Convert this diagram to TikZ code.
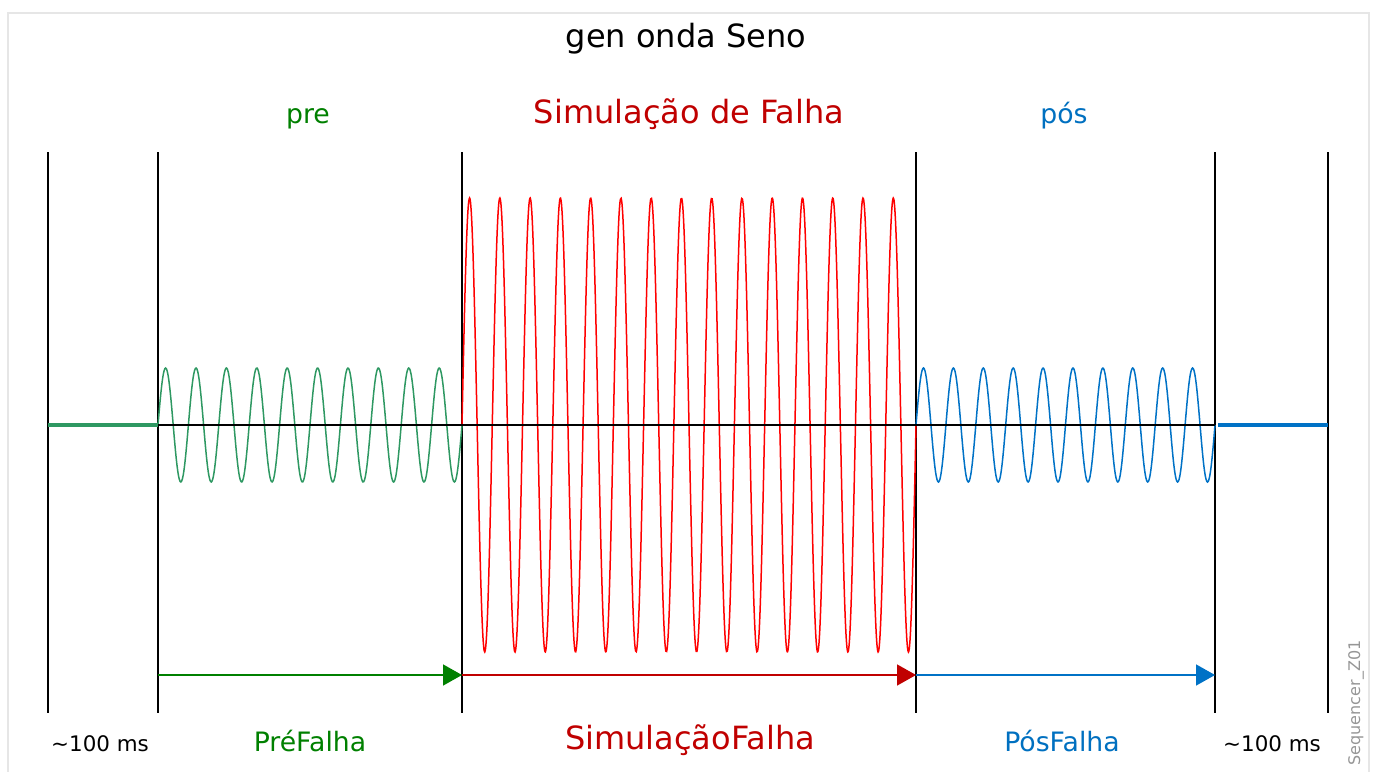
\documentclass[tikz,border=0pt]{standalone}
\usepackage{fontspec}
\setmainfont{DejaVu Sans}
\usetikzlibrary{
  positioning,
  arrows.meta
}
\definecolor{precolor}{RGB}{46,152,98}
\definecolor{faultcolor}{RGB}{255,0,0}
\definecolor{postcolor}{RGB}{0,114,198}
\definecolor{pretext}{RGB}{0,128,0}
\definecolor{faulttext}{RGB}{192,0,0}
\definecolor{posttext}{RGB}{0,112,192}
\definecolor{framecolor}{RGB}{230,230,230}
\definecolor{tagcolor}{RGB}{150,150,150}
\tikzset{
  marker/.style={
    line width=1.6pt,
    black
  },
  wave/.style={
    line width=1.5pt,
    color=#1
  },
  flat/.style={
    line width=3.2pt,
    color=#1
  },
  phasearrow/.style={
    -{Triangle[length=19pt,width=21pt]},
    line width=1.6pt,
    color=#1
  },
  bigtext/.style={
    font=\fontsize{32}{38}\selectfont
  },
  midtext/.style={
    font=\fontsize{26.7}{32}\selectfont
  },
  smalltext/.style={
    font=\fontsize{21.4}{26}\selectfont
  }
}

\begin{document}
\begin{tikzpicture}[x=1pt,y=-1pt]

  % Frame
  \useasboundingbox (0,0) rectangle (1373,771);
  \draw[framecolor, line width=1.5pt] (8,776) |- (1369,13) -- (1369,776);

  % Time marks
  \foreach \n/\x in {0/48,1/158,2/462,3/916,4/1215,5/1328} {
    \coordinate (top\n) at (\x,152);
    \coordinate (mid\n) at (\x,425);
    \coordinate (bot\n) at (\x,713);
    \coordinate (arr\n) at (\x,675);
    \draw[marker] (top\n) -- (bot\n);
  }

  % Waves (period about 30 px)
  \draw[flat=precolor] (mid0) -- (mid1);
  \draw[wave=precolor] plot[domain=158:462, samples=400, smooth]
    (\x, {425-57*sin((\x-158)*11.8421)});
  \draw[wave=faultcolor] plot[domain=462:916, samples=600, smooth]
    (\x, {425-227*sin((\x-462)*11.894)});
  \draw[wave=postcolor] plot[domain=916:1215, samples=400, smooth]
    (\x, {425-57*sin((\x-916)*12.0401)});
  \draw[flat=postcolor] (1218,425) -- (mid5);
  \draw[line width=1.6pt] (mid1) -- (mid4);

  % Phase arrows
  \draw[phasearrow=pretext] (arr1) -- (arr2);
  \draw[phasearrow=faulttext] (arr2) -- (arr3);
  \draw[phasearrow=postcolor] (arr3) -- (arr4);

  % Title and phase labels
  \node[bigtext] (title) at (686,39) {gen onda Seno};
  \node[midtext, text=pretext] (pre) at (308,119) {pre};
  \node[bigtext, text=faulttext] (fault) at (689,114) {Simulação de Falha};
  \node[midtext, text=posttext] (post) at (1064,116) {pós};

  % Duration labels
  \node[smalltext] (lead) at (100,744) {\textasciitilde100 ms};
  \node[midtext, text=pretext] (prefault) at (310,741) {PréFalha};
  \node[bigtext, text=faulttext] (faultsim) at (690,740) {SimulaçãoFalha};
  \node[midtext, text=posttext] (postfault) at (1062,741) {PósFalha};
  \node[smalltext] (trail) at (1272,744) {\textasciitilde100 ms};

  % Tag
  \node[rotate=90, text=tagcolor, font=\fontsize{16}{19}\selectfont] (tag) at (1356,703) {Sequencer\_Z01};

\end{tikzpicture}
\end{document}
